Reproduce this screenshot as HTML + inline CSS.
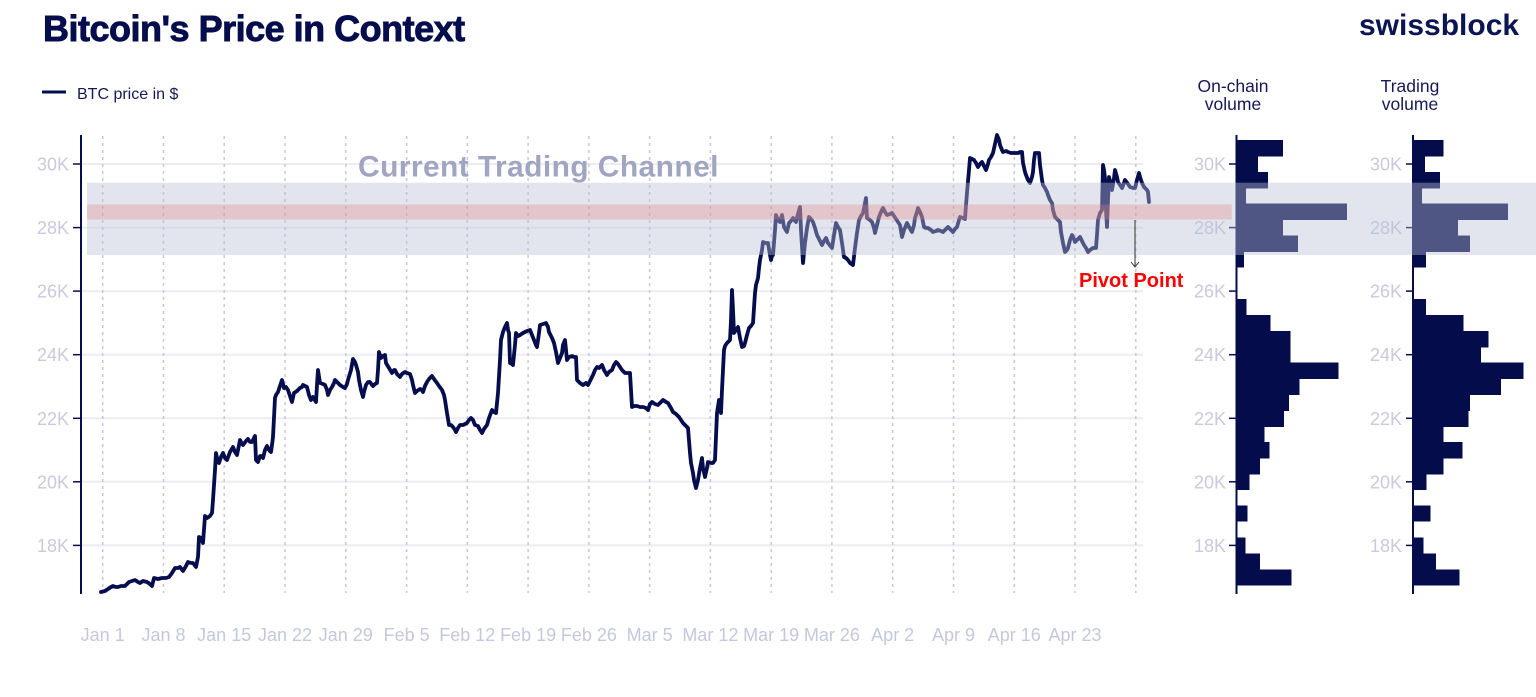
<!DOCTYPE html>
<html>
<head>
<meta charset="utf-8">
<style>
  html,body{margin:0;padding:0;background:#fff;}
  body{width:1536px;height:697px;overflow:hidden;}
  svg{display:block;}
  .t{font-family:"Liberation Sans",sans-serif;}
</style>
</head>
<body>
<svg width="1536" height="697" viewBox="0 0 1536 697" xmlns="http://www.w3.org/2000/svg">
  <rect width="1536" height="697" fill="#fff"/>

  <!-- Title -->
  <text class="t" x="43" y="41" font-size="36" font-weight="bold" fill="#050d4d" stroke="#050d4d" stroke-width="0.9" letter-spacing="-0.5">Bitcoin's Price in Context</text>
  <text class="t" x="1359" y="35" font-size="30" font-weight="bold" fill="#0b1552">swissblock</text>

  <!-- Legend -->
  <line x1="42" y1="92" x2="66" y2="92" stroke="#050d4d" stroke-width="3"/>
  <text class="t" x="77" y="99" font-size="16" fill="#141a55">BTC price in $</text>

  <!-- Column headers -->
  <g font-family="Liberation Sans, sans-serif" font-size="17.5" fill="#141a55" text-anchor="middle">
    <text x="1233" y="92">On-chain</text>
    <text x="1233" y="110">volume</text>
    <text x="1410" y="92">Trading</text>
    <text x="1410" y="110">volume</text>
  </g>

  <!-- Horizontal gridlines -->
  <g stroke="#ececf2" stroke-width="2">
    <line x1="82" y1="164" x2="1143" y2="164"/>
    <line x1="82" y1="227.6" x2="1143" y2="227.6"/>
    <line x1="82" y1="291.1" x2="1143" y2="291.1"/>
    <line x1="82" y1="354.7" x2="1143" y2="354.7"/>
    <line x1="82" y1="418.3" x2="1143" y2="418.3"/>
    <line x1="82" y1="481.8" x2="1143" y2="481.8"/>
    <line x1="82" y1="545.4" x2="1143" y2="545.4"/>
  </g>

  <!-- Vertical dashed gridlines -->
  <g stroke="#c5c8dc" stroke-width="1.5" stroke-dasharray="3,4">
    <line x1="102.7" y1="136" x2="102.7" y2="593"/>
    <line x1="163.5" y1="136" x2="163.5" y2="593"/>
    <line x1="224.2" y1="136" x2="224.2" y2="593"/>
    <line x1="285.0" y1="136" x2="285.0" y2="593"/>
    <line x1="345.8" y1="136" x2="345.8" y2="593"/>
    <line x1="406.6" y1="136" x2="406.6" y2="593"/>
    <line x1="467.3" y1="136" x2="467.3" y2="593"/>
    <line x1="528.1" y1="136" x2="528.1" y2="593"/>
    <line x1="588.9" y1="136" x2="588.9" y2="593"/>
    <line x1="649.6" y1="136" x2="649.6" y2="593"/>
    <line x1="710.4" y1="136" x2="710.4" y2="593"/>
    <line x1="771.2" y1="136" x2="771.2" y2="593"/>
    <line x1="831.9" y1="136" x2="831.9" y2="593"/>
    <line x1="892.7" y1="136" x2="892.7" y2="593"/>
    <line x1="953.5" y1="136" x2="953.5" y2="593"/>
    <line x1="1014.3" y1="136" x2="1014.3" y2="593"/>
    <line x1="1075.0" y1="136" x2="1075.0" y2="593"/>
    <line x1="1135.8" y1="136" x2="1135.8" y2="593"/>
  </g>

  <!-- X labels -->
  <g class="t" font-size="18" fill="#c5c8dc" text-anchor="middle">
    <text x="102.7" y="641">Jan 1</text>
    <text x="163.5" y="641">Jan 8</text>
    <text x="224.2" y="641">Jan 15</text>
    <text x="285.0" y="641">Jan 22</text>
    <text x="345.8" y="641">Jan 29</text>
    <text x="406.6" y="641">Feb 5</text>
    <text x="467.3" y="641">Feb 12</text>
    <text x="528.1" y="641">Feb 19</text>
    <text x="588.9" y="641">Feb 26</text>
    <text x="649.6" y="641">Mar 5</text>
    <text x="710.4" y="641">Mar 12</text>
    <text x="771.2" y="641">Mar 19</text>
    <text x="831.9" y="641">Mar 26</text>
    <text x="892.7" y="641">Apr 2</text>
    <text x="953.5" y="641">Apr 9</text>
    <text x="1014.3" y="641">Apr 16</text>
    <text x="1075.0" y="641">Apr 23</text>
  </g>

  <!-- Main Y axis -->
  <line x1="81" y1="135" x2="81" y2="594" stroke="#050d4d" stroke-width="2"/>
  <g stroke="#050d4d" stroke-width="1.5">
    <line x1="73" y1="164" x2="81" y2="164"/>
    <line x1="73" y1="227.6" x2="81" y2="227.6"/>
    <line x1="73" y1="291.1" x2="81" y2="291.1"/>
    <line x1="73" y1="354.7" x2="81" y2="354.7"/>
    <line x1="73" y1="418.3" x2="81" y2="418.3"/>
    <line x1="73" y1="481.8" x2="81" y2="481.8"/>
    <line x1="73" y1="545.4" x2="81" y2="545.4"/>
  </g>
  <g class="t" font-size="18" fill="#c8cadd" text-anchor="end">
    <text x="69" y="170.5">30K</text>
    <text x="69" y="234">28K</text>
    <text x="69" y="297.6">26K</text>
    <text x="69" y="361.2">24K</text>
    <text x="69" y="424.8">22K</text>
    <text x="69" y="488.3">20K</text>
    <text x="69" y="551.9">18K</text>
  </g>

  <!-- Price line -->
  <polyline fill="none" stroke="#050d4d" stroke-width="3.8" stroke-linejoin="round" stroke-linecap="round" points="
101,592 105,591 108,589 111,587 113,586 116,587 118,587 121,586 125,586 127,584 129,582 132,581 135,580 138,582 140,583 143,581 147,582 150,584 152,586 154,578 158,579 162,578 166,578 169,577 172,573 175,568 178,568 180,567 183,571 186,566 188,562 191,563 193,563 196,567 198,557 199,537 201,538 203,543 205,516 207,518 210,516 212,513 213,500 215,470 216,453 218,462 219,463 221,457 223,453 225,458 227,460 230,452 233,447 235,452 237,455 240,440 242,444 243,445 246,441 248,439 250,442 252,442 254,438 255,436 256,460 258,462 260,456 262,456 263,458 265,450 267,446 269,450 271,452 272,445 273,437 275,398 276,395 278,392 280,386 282,380 284,388 286,387 288,390 290,396 292,402 294,393 297,391 300,388 302,387 303,385 305,386 307,387 309,395 311,400 313,397 316,402 317,385 318,370 320,383 323,384 325,385 327,390 328,395 330,390 332,387 334,383 335,380 338,383 340,385 343,387 345,388 347,384 348,380 351,370 353,359 355,362 356,365 358,372 359,380 361,390 363,397 364,392 366,385 368,382 370,382 372,385 373,386 375,384 377,383 378,370 379,352 381,358 383,356 385,355 386,363 389,368 392,373 394,370 395,370 397,374 400,377 402,374 405,372 407,373 410,374 412,380 413,385 415,393 417,391 420,389 422,390 423,392 425,386 427,382 429,379 432,376 434,379 437,383 439,386 442,390 444,395 445,400 447,413 449,425 451,425 453,427 455,430 456,432 458,428 460,425 463,425 467,423 469,420 471,418 473,420 475,425 478,426 480,430 482,433 484,429 487,425 489,418 492,410 494,412 496,413 498,393 500,360 501,340 503,332 505,327 507,323 508,330 509,333 510,363 512,364 513,365 515,345 516,333 518,336 520,335 523,333 525,332 527,331 530,330 532,335 534,340 536,345 537,347 539,333 540,325 543,324 546,323 548,327 549,332 552,338 554,343 556,352 558,363 560,358 562,353 563,345 565,340 566,350 567,360 569,357 572,356 574,357 576,357 577,380 580,383 583,385 586,383 588,385 590,381 593,375 595,370 597,367 599,368 602,365 604,370 607,375 609,372 612,370 614,365 616,362 618,364 620,367 622,370 625,373 628,373 630,373 632,407 634,406 637,406 640,407 643,407 646,408 648,410 650,404 652,402 655,404 658,405 661,402 663,400 666,402 668,403 671,408 673,412 676,414 679,417 681,420 683,423 686,426 688,428 690,453 691,463 693,473 694,480 696,488 697,484 698,480 700,468 702,458 703,468 705,477 707,468 708,462 711,463 713,463 715,460 717,413 719,400 721,413 722,390 724,350 725,346 727,343 729,341 730,340 731,320 732,290 733,310 734,333 736,330 738,327 740,338 742,347 744,346 745,343 747,335 749,328 751,326 753,323 755,293 756,285 758,278 759,268 760,260 762,250 763,242 765,243 768,243 770,255 771,260 772,256 773,255 775,230 776,215 778,220 780,222 782,215 784,227 787,232 789,223 791,221 793,218 796,222 798,214 800,207 801,230 803,263 805,243 807,228 809,217 811,219 813,222 815,228 817,235 820,241 822,245 824,241 826,238 828,243 832,248 834,235 836,223 838,227 840,230 842,243 844,257 846,258 848,260 850,263 853,265 855,248 857,233 859,220 861,216 863,213 865,203 866,198 867,218 870,220 872,222 874,228 875,233 877,225 879,217 881,212 883,208 885,212 887,215 890,214 892,213 894,216 896,219 898,222 900,225 902,237 904,230 907,223 909,227 912,232 914,225 915,218 917,212 918,208 920,212 922,217 924,227 926,228 928,228 931,230 933,232 936,231 938,230 941,231 943,232 946,229 948,227 951,230 953,232 955,229 957,227 959,220 960,217 963,218 965,219 966,205 967,193 969,170 970,158 972,159 974,160 976,163 978,167 980,164 982,162 984,166 986,170 988,164 989,160 991,157 993,153 995,144 997,135 999,140 1000,145 1002,150 1003,152 1006,151 1008,152 1011,153 1013,153 1016,153 1018,153 1020,152 1022,152 1023,163 1025,172 1026,175 1028,180 1030,183 1032,177 1033,172 1034,160 1035,153 1037,153 1039,153 1040,165 1042,180 1043,185 1045,188 1047,192 1048,195 1050,200 1052,203 1053,210 1055,217 1057,219 1060,222 1061,232 1063,243 1065,252 1067,250 1068,248 1070,240 1072,235 1074,239 1075,242 1078,239 1080,237 1082,241 1084,245 1086,248 1088,252 1090,250 1093,248 1096,248 1097,235 1098,220 1100,213 1102,210 1103,165 1104,170 1105,178 1106,210 1107,227 1108,200 1109,177 1111,185 1112,190 1114,178 1115,170 1117,177 1118,182 1120,185 1122,188 1124,183 1125,180 1128,184 1130,187 1133,188 1135,188 1137,180 1139,173 1140,177 1142,183 1144,187 1145,188 1147,190 1148,192 1149,202"/>

  <!-- On-chain histogram -->
  <g fill="#040c4c" shape-rendering="crispEdges">
    <rect x="1236" y="140" width="47" height="16.5"/>
    <rect x="1236" y="155.9" width="22" height="16.5"/>
    <rect x="1236" y="171.8" width="32" height="16.5"/>
    <rect x="1236" y="187.7" width="10" height="16.5"/>
    <rect x="1236" y="203.6" width="111" height="16.5"/>
    <rect x="1236" y="219.5" width="47" height="16.5"/>
    <rect x="1236" y="235.4" width="62" height="16.5"/>
    <rect x="1236" y="251.3" width="8" height="16"/>
    <rect x="1236" y="299" width="10.7" height="16.5"/>
    <rect x="1236" y="314.9" width="34.7" height="16.5"/>
    <rect x="1236" y="330.8" width="54.7" height="32.5"/>
    <rect x="1236" y="362.6" width="102.3" height="16.5"/>
    <rect x="1236" y="378.5" width="63.3" height="16.5"/>
    <rect x="1236" y="394.4" width="53" height="16.5"/>
    <rect x="1236" y="410.3" width="48" height="16.5"/>
    <rect x="1236" y="426.2" width="28.3" height="16.5"/>
    <rect x="1236" y="442.1" width="33.3" height="16.5"/>
    <rect x="1236" y="458" width="24" height="16.5"/>
    <rect x="1236" y="473.9" width="13.3" height="16"/>
    <rect x="1236" y="505.7" width="11.3" height="16"/>
    <rect x="1236" y="537.5" width="9.7" height="16.5"/>
    <rect x="1236" y="553.4" width="24" height="16.5"/>
    <rect x="1236" y="569.3" width="55.7" height="16"/>
  </g>
  <line x1="1236.5" y1="135" x2="1236.5" y2="594" stroke="#040c4c" stroke-width="2"/>
  <g stroke="#040c4c" stroke-width="1.5">
    <line x1="1229" y1="164" x2="1236" y2="164"/>
    <line x1="1229" y1="227.6" x2="1236" y2="227.6"/>
    <line x1="1229" y1="291.1" x2="1236" y2="291.1"/>
    <line x1="1229" y1="354.7" x2="1236" y2="354.7"/>
    <line x1="1229" y1="418.3" x2="1236" y2="418.3"/>
    <line x1="1229" y1="481.8" x2="1236" y2="481.8"/>
    <line x1="1229" y1="545.4" x2="1236" y2="545.4"/>
  </g>
  <g class="t" font-size="18" fill="#c8cadd" text-anchor="end">
    <text x="1226" y="170.5">30K</text>
    <text x="1226" y="234">28K</text>
    <text x="1226" y="297.6">26K</text>
    <text x="1226" y="361.2">24K</text>
    <text x="1226" y="424.8">22K</text>
    <text x="1226" y="488.3">20K</text>
    <text x="1226" y="551.9">18K</text>
  </g>

  <!-- Trading histogram -->
  <g fill="#040c4c" shape-rendering="crispEdges">
    <rect x="1413" y="140" width="30.7" height="16.5"/>
    <rect x="1413" y="155.9" width="12" height="16.5"/>
    <rect x="1413" y="171.8" width="27" height="16.5"/>
    <rect x="1413" y="187.7" width="9" height="16.5"/>
    <rect x="1413" y="203.6" width="95" height="16.5"/>
    <rect x="1413" y="219.5" width="45" height="16.5"/>
    <rect x="1413" y="235.4" width="57" height="16.5"/>
    <rect x="1413" y="251.3" width="13" height="16"/>
    <rect x="1413" y="299" width="13" height="16.5"/>
    <rect x="1413" y="314.9" width="50.7" height="16.5"/>
    <rect x="1413" y="330.8" width="75.3" height="16.5"/>
    <rect x="1413" y="346.7" width="68" height="16.5"/>
    <rect x="1413" y="362.6" width="110.7" height="16.5"/>
    <rect x="1413" y="378.5" width="88" height="16.5"/>
    <rect x="1413" y="394.4" width="57" height="16.5"/>
    <rect x="1413" y="410.3" width="55.7" height="16.5"/>
    <rect x="1413" y="426.2" width="30.3" height="16.5"/>
    <rect x="1413" y="442.1" width="49.7" height="16.5"/>
    <rect x="1413" y="458" width="30.3" height="16.5"/>
    <rect x="1413" y="473.9" width="13.7" height="16"/>
    <rect x="1413" y="505.7" width="17.7" height="16"/>
    <rect x="1413" y="537.5" width="10.3" height="16.5"/>
    <rect x="1413" y="553.4" width="23" height="16.5"/>
    <rect x="1413" y="569.3" width="46.3" height="16"/>
  </g>
  <line x1="1413" y1="135" x2="1413" y2="594" stroke="#040c4c" stroke-width="2"/>
  <g stroke="#040c4c" stroke-width="1.5">
    <line x1="1406" y1="164" x2="1413" y2="164"/>
    <line x1="1406" y1="227.6" x2="1413" y2="227.6"/>
    <line x1="1406" y1="291.1" x2="1413" y2="291.1"/>
    <line x1="1406" y1="354.7" x2="1413" y2="354.7"/>
    <line x1="1406" y1="418.3" x2="1413" y2="418.3"/>
    <line x1="1406" y1="481.8" x2="1413" y2="481.8"/>
    <line x1="1406" y1="545.4" x2="1413" y2="545.4"/>
  </g>
  <g class="t" font-size="18" fill="#c8cadd" text-anchor="end">
    <text x="1402" y="170.5">30K</text>
    <text x="1402" y="234">28K</text>
    <text x="1402" y="297.6">26K</text>
    <text x="1402" y="361.2">24K</text>
    <text x="1402" y="424.8">22K</text>
    <text x="1402" y="488.3">20K</text>
    <text x="1402" y="551.9">18K</text>
  </g>

  <!-- Trading channel bands -->
  <rect x="87" y="182.7" width="1449" height="72.3" fill="rgb(187,193,213)" fill-opacity="0.41"/>
  <rect x="87" y="204.5" width="1144.7" height="15" fill="rgb(230,123,125)" fill-opacity="0.3"/>

  <!-- Annotations -->
  <text class="t" x="358" y="176.7" font-size="30" font-weight="bold" fill="#a0a5c2" letter-spacing="0.4">Current Trading Channel</text>
  <line x1="1135" y1="220" x2="1135" y2="267" stroke="#333" stroke-width="1"/>
  <polyline points="1131,262 1135,267 1139,262" fill="none" stroke="#333" stroke-width="1"/>
  <text class="t" x="1079" y="287" font-size="20" font-weight="bold" fill="#ff0000">Pivot Point</text>
</svg>
</body>
</html>
